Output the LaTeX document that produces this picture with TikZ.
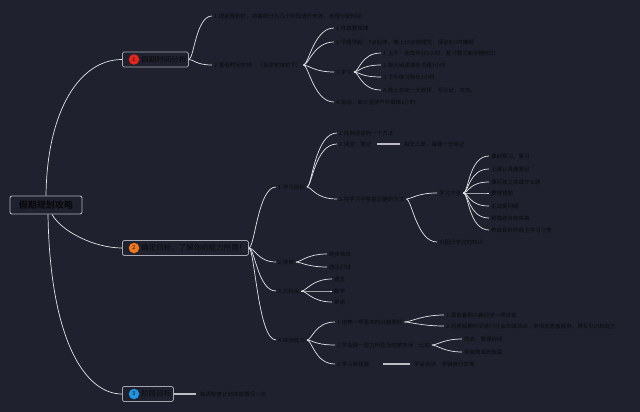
\documentclass[tikz,border=0pt]{standalone}
\usepackage{fontspec}
\setmainfont{Noto Sans CJK SC}
\definecolor{bgc}{RGB}{31,34,46}
\definecolor{linec}{RGB}{228,228,232}
\definecolor{boxc}{RGB}{165,167,176}
\definecolor{textc}{RGB}{10,10,14}
\definecolor{redc}{RGB}{228,38,28}
\definecolor{orangec}{RGB}{238,120,32}
\definecolor{bluec}{RGB}{32,150,226}
\begin{document}
\begin{tikzpicture}[x=1pt,y=-1pt,
  link/.style={draw=linec,line width=.7pt},
  bar/.style={draw=linec!80!bgc,line width=1.4pt},
  leaf/.style={anchor=west,inner xsep=2pt,inner ysep=1pt,text=textc,font=\fontsize{5.5}{6.5}\selectfont},
  topic/.style={anchor=west,draw=boxc,line width=.8pt,rounded corners=1.5pt,minimum height=15pt,inner xsep=2pt,inner ysep=0pt,text=textc,font=\fontsize{7.5}{8}\selectfont},
  num/.style={circle,fill=#1,inner sep=0pt,minimum size=10.5pt,text=textc,font=\fontsize{5.5}{6}\selectfont}]
\useasboundingbox[fill=bgc] (0,0) rectangle (640,412);
% central topic
\node[draw=boxc!90!white,line width=.9pt,rounded corners=2pt,minimum width=72pt,minimum height=18pt,text=textc,font=\fontsize{9}{10}\selectfont\bfseries] (root) at (46,205) {假期规划攻略};
% main topics
\node[topic] (b1) at (122,59.5) {\hspace{17pt}假期时间分析\hspace{1pt}};
\node[num=redc] (n1) at ([xshift=12pt]b1.west) {1};
\node[topic] (b2) at (122,248) {\hspace{17pt}确定目标，了解你的能力所需！};
\node[num=orangec] (n2) at ([xshift=12pt]b2.west) {2};
\node[topic] (b3) at (122,394) {\hspace{17pt}阶段目标};
\node[num=bluec] (n3) at ([xshift=12pt]b3.west) {3};
\draw[link] (root.north) .. controls (47,110) and (80,59.5) .. (b1.west);
\draw[link] ([xshift=6pt]root.south) .. controls (62,232) and (95,248) .. (b2.west);
\draw[link] ([xshift=2pt]root.south) .. controls (50,340) and (85,394) .. (b3.west);
% branch 1
\node[leaf] (t11) at (212,16) {1.提前规划好，把暑假分为几个阶段进行安排，合理分配时间};
\node[leaf] (t12) at (212,65) {2.暑假时间安排：（具体安排如下）};
\foreach \c in {t11,t12}
  \draw[link] (b1.east) .. controls +(5,0) and +(-16,0) .. (\c.west);
\node[leaf] (t121) at (334,28) {1.作息要规律};
\node[leaf] (t122) at (334,42) {2.早睡早起：7点起床，晚上10点前睡觉，保证8小时睡眠};
\node[leaf] (t123) at (334,72) {3.学习};
\node[leaf] (t124) at (334,102) {4.运动：每天坚持户外锻炼1小时};
\foreach \c in {t121,t122,t123,t124}
  \draw[link] (t12.east) .. controls +(5,0) and +(-20,0) .. (\c.west);
\node[leaf] (t1231) at (381,53) {1.上午：完成作业2小时，复习预习新学期知识};
\node[leaf] (t1232) at (381,65) {2.每天阅读课外书籍1小时};
\node[leaf] (t1233) at (381,77) {3.下午练习特长1小时};
\node[leaf] (t1234) at (381,90) {4.晚上总结一天收获，写日记，交流。};
\foreach \c in {t1231,t1232,t1233,t1234}
  \draw[link] (t123.east) .. controls +(5,0) and +(-20,0) .. (\c.west);
% branch 2
\node[leaf] (t21) at (276,187) {1.学习目标};
\node[leaf] (t22) at (276,262) {2.体育};
\node[leaf] (t23) at (276,291) {3.三科目};
\node[leaf] (t24) at (276,340) {4.综合能力};
\foreach \c in {t21,t22,t23,t24}
  \draw[link] (b2.east) .. controls +(6,0) and +(-18,0) .. (\c.west);
\node[leaf] (t211) at (337,133) {1.找到适合的一个方法};
\node[leaf] (t212) at (337,144) {2.课堂：笔记};
\node[leaf] (t212b) at (402,144) {每天三题，每题一份笔记};
\node[leaf] (t213) at (337,199) {3.在学习中掌握正确的方法};
\foreach \c in {t211,t212,t213}
  \draw[link] (t21.east) .. controls +(5,0) and +(-22,0) .. (\c.west);
\draw[bar] ([xshift=4pt]t212.east) -- ([xshift=-2pt]t212b.west);
\node[leaf] (t2131) at (437,193) {学习方法};
\node[leaf] (t2132) at (437,242) {巩固已学过的知识};
\foreach \c in {t2131,t2132}
  \draw[link] (t213.east) .. controls +(5,0) and +(-20,0) .. (\c.west);
\foreach \y/\s [count=\i] in {156/课前预习，复习,169/上课认真做笔记,182/课后独立完成作业题,193/整理错题,206/主动提问题,218/劳逸结合效率高,230/养成良好的自主学习习惯}{
  \node[leaf] (m\i) at (489,\y) {\s};
  \draw[link] (t2131.east) .. controls +(5,0) and +(-20,0) .. (m\i.west);
}
\node[leaf] (t221) at (327,254) {跑步锻炼};
\node[leaf] (t222) at (327,267) {游泳打球};
\foreach \c in {t221,t222}
  \draw[link] (t22.east) .. controls +(5,0) and +(-20,0) .. (\c.west);
\node[leaf] (t231) at (332,279) {语文};
\node[leaf] (t232) at (332,291) {数学};
\node[leaf] (t233) at (332,302) {英语};
\foreach \c in {t231,t232,t233}
  \draw[link] (t23.east) .. controls +(5,0) and +(-20,0) .. (\c.west);
\node[leaf] (t241) at (335,322) {1.培养一项喜欢的兴趣爱好};
\node[leaf] (t242) at (335,345) {2.学会做一些力所能及的家务活：比如};
\node[leaf] (t243) at (335,364) {3.学习新技能：};
\foreach \c in {t241,t242,t243}
  \draw[link] (t24.east) .. controls +(5,0) and +(-20,0) .. (\c.west);
\node[leaf] (t2411) at (444,315) {1.报名暑期兴趣班学一项技能};
\node[leaf] (t2412) at (444,326) {2.利用假期时间进行社会实践活动，参加志愿者服务，增长见识和能力};
\foreach \c in {t2411,t2412}
  \draw[link] (t241.east) .. controls +(6,0) and +(-22,0) .. (\c.west);
\node[leaf] (t2421) at (462,339) {洗衣，整理房间};
\node[leaf] (t2422) at (462,352) {学做简单的饭菜};
\foreach \c in {t2421,t2422}
  \draw[link] (t242.east) .. controls +(5,0) and +(-18,0) .. (\c.west);
\node[leaf] (t243b) at (412,364) {学会游泳、学骑自行车等};
\draw[bar] ([xshift=6pt]t243.east) -- ([xshift=-2pt]t243b.west);
% branch 3
\node[leaf] (t31) at (198,394) {每周检查计划完成情况一次};
\draw[bar] (b3.east) -- ([xshift=-2pt]t31.west);
\end{tikzpicture}
\end{document}
